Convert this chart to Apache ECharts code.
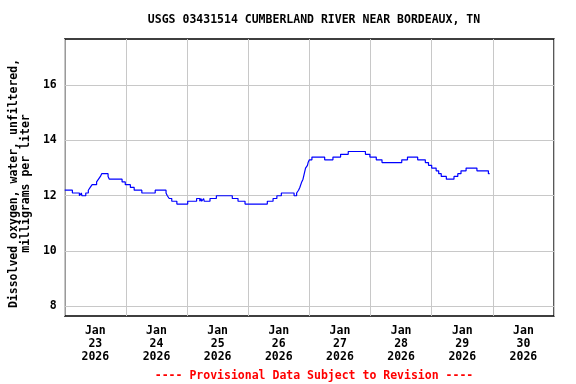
<!DOCTYPE html>
<html>
<head>
<meta charset="utf-8">
<script src="https://cdn.jsdelivr.net/npm/echarts@6/dist/echarts.min.js"></script>
<style>html,body{margin:0;padding:0;background:#fff}#c{width:576px;height:384px}</style>
</head>
<body>
<div id="c"></div>
<script>
var titleText = 'USGS 03431514 CUMBERLAND RIVER NEAR BORDEAUX, TN';
var footerText = '---- Provisional Data Subject to Revision ----';
var yAxisName = 'Dissolved oxygen, water, unfiltered,\nmilligrams per liter';
var yTicks = [8, 10, 12, 14, 16];
var dayLabels = ['Jan\n23\n2026','Jan\n24\n2026','Jan\n25\n2026','Jan\n26\n2026','Jan\n27\n2026','Jan\n28\n2026','Jan\n29\n2026','Jan\n30\n2026'];
var times = [
 '2026-01-23 00:00','2026-01-23 03:00','2026-01-23 05:45','2026-01-23 06:30','2026-01-23 06:45','2026-01-23 08:15',
 '2026-01-23 09:15','2026-01-23 10:00','2026-01-23 10:45','2026-01-23 12:30','2026-01-23 13:15','2026-01-23 14:00',
 '2026-01-23 14:30','2026-01-23 17:00','2026-01-23 17:30','2026-01-23 22:30','2026-01-23 23:45',
 '2026-01-24 01:45','2026-01-24 03:15','2026-01-24 06:15','2026-01-24 11:30','2026-01-24 15:45','2026-01-24 16:15',
 '2026-01-24 17:00','2026-01-24 18:00','2026-01-24 20:00',
 '2026-01-25 00:15','2026-01-25 03:45','2026-01-25 05:00','2026-01-25 05:30','2026-01-25 05:45','2026-01-25 06:30',
 '2026-01-25 06:45','2026-01-25 09:00','2026-01-25 11:30','2026-01-25 17:45','2026-01-25 20:00','2026-01-25 22:45',
 '2026-01-26 07:30','2026-01-26 09:45','2026-01-26 11:15','2026-01-26 13:00','2026-01-26 18:00','2026-01-26 19:00',
 '2026-01-26 19:45','2026-01-26 20:15','2026-01-26 21:00','2026-01-26 21:30','2026-01-26 22:00','2026-01-26 22:30',
 '2026-01-26 23:15','2026-01-26 23:30',
 '2026-01-27 00:00','2026-01-27 01:00','2026-01-27 06:00','2026-01-27 09:15','2026-01-27 12:15','2026-01-27 15:15',
 '2026-01-27 22:00','2026-01-27 23:45',
 '2026-01-28 02:15','2026-01-28 04:30','2026-01-28 12:15','2026-01-28 14:30','2026-01-28 18:30','2026-01-28 21:30',
 '2026-01-28 22:45',
 '2026-01-29 00:00','2026-01-29 01:45','2026-01-29 02:45','2026-01-29 03:45','2026-01-29 05:45','2026-01-29 08:45',
 '2026-01-29 10:15','2026-01-29 11:30','2026-01-29 13:30','2026-01-29 17:45','2026-01-29 22:15','2026-01-29 22:45'
];
var oxygen = [
 12.2,12.1,12.0,12.1,12.0,12.1,
 12.2,12.3,12.4,12.5,12.6,12.7,
 12.8,12.7,12.6,12.5,12.4,
 12.3,12.2,12.1,12.2,12.1,12.0,
 11.9,11.8,11.7,
 11.8,11.9,11.8,11.9,11.8,11.9,
 11.8,11.9,12.0,11.9,11.8,11.7,
 11.8,11.9,12.0,12.1,12.0,12.1,
 12.2,12.3,12.5,12.6,12.8,13.0,
 13.1,13.2,
 13.3,13.4,13.3,13.4,13.5,13.6,
 13.5,13.4,
 13.3,13.2,13.3,13.4,13.3,13.2,
 13.1,
 13.0,12.9,12.8,12.7,12.6,12.7,
 12.8,12.9,13.0,12.9,12.8,12.8
];
var xMin = '2026-01-23 00:00', xMax = '2026-01-31 00:00';
var yMin = 7.65, yMax = 17.67;

var font = 'DejaVu Sans Mono';
var fs = 11.5;
var chart = echarts.init(document.getElementById('c'));
chart.setOption({
  animation: false,
  backgroundColor: '#fff',
  title: [
    {text: titleText, left: 309, top: 9, textAlign: 'center',
     textStyle: {fontFamily: font, fontSize: fs, fontWeight: 'bold', color: '#000'}},
    {text: footerText, left: 309, top: 365, textAlign: 'center',
     textStyle: {fontFamily: font, fontSize: fs, fontWeight: 'bold', color: '#ff0000'}}
  ],
  grid: {left: 64, right: 22, top: 39, bottom: 68, show: true, borderColor: '#000', borderWidth: 1.3, backgroundColor: 'transparent'},
  xAxis: [
    {type: 'time', min: xMin, max: xMax, interval: 86400000,
     axisLine: {show: false}, axisTick: {show: false}, axisLabel: {show: false},
     splitLine: {show: true, lineStyle: {color: '#c8c8c8', width: 1}}},
    {type: 'category', data: dayLabels, boundaryGap: true, position: 'bottom',
     axisLine: {show: false}, axisTick: {show: false}, splitLine: {show: false},
     axisLabel: {fontFamily: font, fontSize: fs, fontWeight: 'bold', color: '#000', lineHeight: 13, margin: 9, interval: 0}}
  ],
  yAxis: {type: 'value', min: yMin, max: yMax,
    name: yAxisName, nameLocation: 'middle', nameGap: 31, nameRotate: 90,
    nameTextStyle: {fontFamily: font, fontSize: fs, fontWeight: 'bold', color: '#000', lineHeight: 12, align: 'center', padding: [0, 12, 0, 0]},
    axisLine: {show: false}, axisTick: {show: false, customValues: yTicks},
    axisLabel: {customValues: yTicks, fontFamily: font, fontSize: fs, fontWeight: 'bold', color: '#000', margin: 8},
    splitLine: {show: true, lineStyle: {color: '#c8c8c8', width: 1}}
  },
  series: [{
    type: 'line', step: 'end', showSymbol: false, symbol: 'none',
    xAxisIndex: 0,
    data: times.map(function (t, i) { return [t, oxygen[i]]; }),
    lineStyle: {color: '#0000ff', width: 1.2}
  }]
});
</script>
</body>
</html>
